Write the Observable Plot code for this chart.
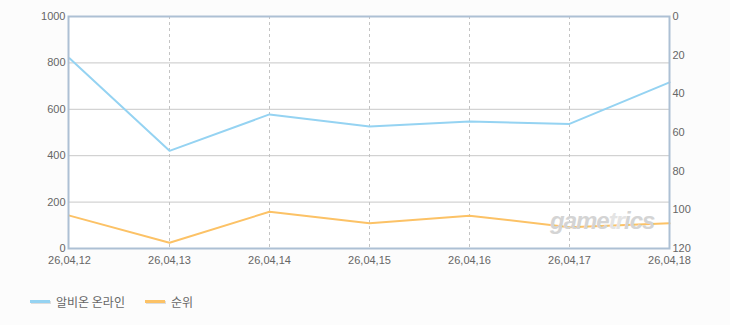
<!DOCTYPE html>
<html><head><meta charset="utf-8">
<script src="https://cdn.jsdelivr.net/npm/d3@7"></script>
<script src="https://cdn.jsdelivr.net/npm/@observablehq/plot@0.6"></script>
<style>
html,body{margin:0;padding:0;background:#fcfcfc;}
#wrap{position:relative;width:730px;height:325px;font-family:"Liberation Sans","Noto Sans CJK KR",sans-serif;}
#legend{position:absolute;left:30px;top:293px;display:flex;gap:0;font-size:12px;color:#666;font-family:"Noto Sans CJK KR",sans-serif;}
.item{display:flex;align-items:center;margin-right:20px;}
.sw{width:20px;height:3px;margin-right:6px;box-shadow:1px 1px 0 #ddd;}
#wm{position:absolute;left:550px;top:207px;font:italic bold 24px "Liberation Sans",sans-serif;color:#d4d4d4;letter-spacing:-1px;}
#wm span{color:#e4e4e4;}
</style></head>
<body><div id="wrap"><div id="chart"></div>
<div id="wm">game<span>tr</span>ics</div>
<div id="legend"></div></div>
<script>
const dates = ["26,04,12","26,04,13","26,04,14","26,04,15","26,04,16","26,04,17","26,04,18"];
const players = [820, 421, 578, 526, 547, 537, 716];
const ranks = [103, 117, 101, 107, 103, 109, 107];
const seriesNames = ["알비온 온라인", "순위"];
const seriesColors = ["#95d3f2", "#fcc266"];
const leftTicks = [0, 200, 400, 600, 800, 1000];
const rightTicks = [0, 20, 40, 60, 80, 100, 120];
const bands = [[800,1000],[400,600],[0,200]];

const LEFT_MAX = 1000, RIGHT_MAX = 120;
const toLeft = r => LEFT_MAX - r / RIGHT_MAX * LEFT_MAX;

const pData = dates.map((d,i)=>({d, v: players[i]}));
const rData = dates.map((d,i)=>({d, v: toLeft(ranks[i])}));
const bandData = bands.map(([a,b])=>({y1:a,y2:b}));

const chart = Plot.plot({
  width: 730, height: 275,
  marginLeft: 68, marginRight: 61, marginTop: 16, marginBottom: 27,
  style: {background: "transparent", fontFamily: "Liberation Sans, Noto Sans CJK KR, sans-serif", fontSize: "11px", color: "#666"},
  x: {type: "point", domain: dates, padding: 0},
  y: {domain: [0, LEFT_MAX]},
  marks: [
    Plot.frame({fill: "#ffffff"}),
    Plot.rectY(bandData, {x1: dates[0], x2: dates[dates.length-1], y1: "y1", y2: "y2", fill: "#f9f9f9"}),
    Plot.ruleY(leftTicks.slice(1, -1), {stroke: "#c8c8c8", strokeWidth: 1}),
    Plot.ruleX(dates.slice(1, -1), {stroke: "#c4c4c4", strokeDasharray: "3,3", strokeWidth: 1}),
    Plot.lineY(pData, {x: "d", y: "v", stroke: seriesColors[0], strokeWidth: 2}),
    Plot.lineY(rData, {x: "d", y: "v", stroke: seriesColors[1], strokeWidth: 2}),
    Plot.frame({stroke: "#adc0d4", strokeWidth: 2}),
    Plot.axisY(leftTicks, {anchor: "left", tickSize: 0, tickPadding: 3, fill: "#666", label: null, tickFormat: v => String(v)}),
    Plot.axisY(rightTicks.map(toLeft), {anchor: "right", tickSize: 0, tickPadding: 3, fill: "#666", label: null,
      tickFormat: v => String(Math.round((LEFT_MAX - v) / LEFT_MAX * RIGHT_MAX))}),
    Plot.axisX(dates, {tickSize: 0, tickPadding: 8, fill: "#666", label: null})
  ]
});
document.getElementById("chart").appendChild(chart);

const lg = document.getElementById("legend");
seriesNames.forEach((n,i)=>{
  const it = document.createElement("div"); it.className = "item";
  const sw = document.createElement("div"); sw.className = "sw"; sw.style.background = seriesColors[i];
  const t = document.createElement("span"); t.textContent = n;
  it.appendChild(sw); it.appendChild(t); lg.appendChild(it);
});
</script></body></html>
